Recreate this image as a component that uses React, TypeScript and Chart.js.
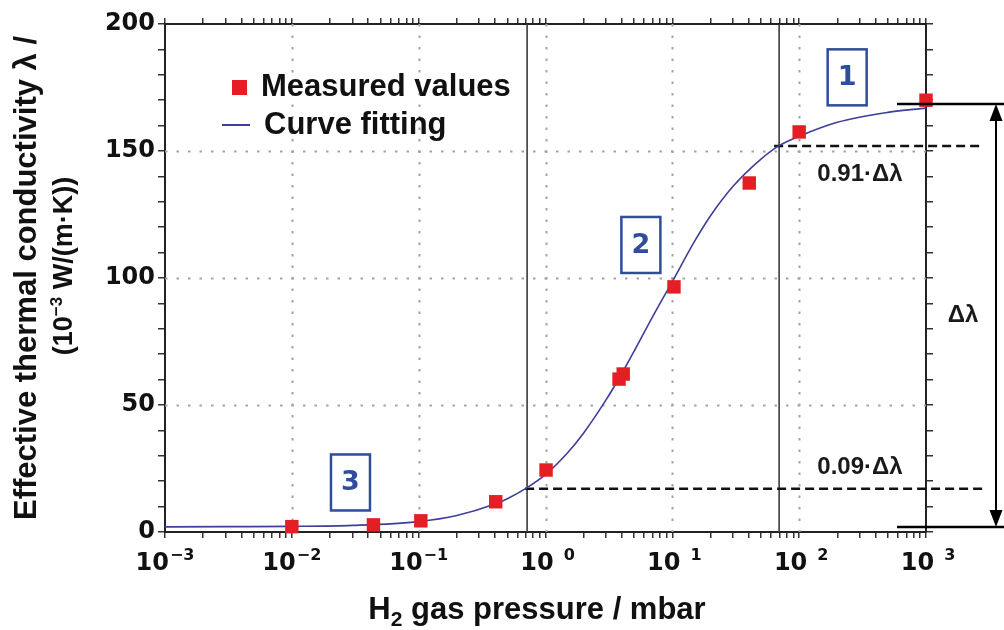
import React, { useEffect, useRef } from 'react';
import { Chart, registerables } from 'chart.js';

Chart.register(...registerables);

// ---- data ----
const measuredPressure = [0.01, 0.044, 0.104, 0.405, 1.01, 3.8, 4.1, 10.3, 40.4, 100, 1000];
const measuredLambda = [2.1, 2.8, 4.4, 11.9, 24.4, 60.2, 62.2, 96.5, 137.4, 157.5, 170];

const fitPressure = [0.001, 0.003, 0.01, 0.03, 0.1, 0.2, 0.4, 0.5, 0.7, 1, 1.5, 2, 3, 4, 5, 7, 10, 15, 20, 30, 50, 70, 100, 200, 500, 1000];
const fitLambda = [2.0, 2.1, 2.2, 2.6, 4.1, 6.5, 11.0, 13.1, 17.2, 22.6, 31.3, 39.0, 52.0, 62.4, 71.2, 84.8, 98.6, 114.5, 124.5, 136.0, 146.8, 152.2, 155.8, 161.3, 165.2, 166.9];

const xTickExponents = [-3, -2, -1, 0, 1, 2, 3];
const yTickValues = [0, 50, 100, 150, 200];

const boundaryPressure = [0.716, 69.5];
const levelLambda = [17, 152];
const levelLabels = ['0.09·Δλ', '0.91·Δλ'];
const bracketLambda = [2, 168.5];
const deltaLabel = 'Δλ';

const regionLabels = ['1', '2', '3'];
const regionPressure = [239, 5.65, 0.029];
const regionLambda = [179, 113, 19.5];

const legendLabels = ['Measured values', 'Curve fitting'];

const RED = '#e31e24';
const CURVE = '#3d3f99';
const BOXBLUE = '#2e4d9a';
const SANS = '"Liberation Sans", Arial, sans-serif';
const VERD = '"DejaVu Sans", Verdana, sans-serif';

function buildLogTicks() {
  const out: { value: number; major: boolean }[] = [];
  for (let e = -3; e < 3; e++) {
    for (let m = 1; m <= 9; m++) out.push({ value: m * Math.pow(10, e), major: m === 1 });
  }
  out.push({ value: 1000, major: true });
  return out;
}

const decorPlugin = {
  id: 'decor',
  beforeDatasetsDraw(chart: any) {
    const { ctx, chartArea: a, scales } = chart;
    const x = scales.x, y = scales.y;
    ctx.save();
    // dotted grid
    ctx.strokeStyle = '#a3a3a3';
    ctx.lineWidth = 2;
    ctx.setLineDash([2.5, 9]);
    xTickExponents.slice(1, -1).forEach((e) => {
      const px = Math.round(x.getPixelForValue(Math.pow(10, e))) + 0.5;
      ctx.beginPath(); ctx.moveTo(px, a.top); ctx.lineTo(px, a.bottom); ctx.stroke();
    });
    yTickValues.slice(1, -1).forEach((v) => {
      const py = Math.round(y.getPixelForValue(v)) + 0.5;
      ctx.beginPath(); ctx.moveTo(a.left, py); ctx.lineTo(a.right, py); ctx.stroke();
    });
    // boundary vertical lines
    ctx.setLineDash([]);
    ctx.strokeStyle = '#3a3a3a';
    ctx.lineWidth = 1.6;
    boundaryPressure.forEach((p) => {
      const px = x.getPixelForValue(p);
      ctx.beginPath(); ctx.moveTo(px, a.top); ctx.lineTo(px, a.bottom); ctx.stroke();
    });
    // dashed levels
    ctx.strokeStyle = '#111';
    ctx.lineWidth = 2.5;
    ctx.setLineDash([9, 5]);
    levelLambda.forEach((lv, i) => {
      const px0 = x.getPixelForValue(boundaryPressure[i]) - (i === 1 ? 5 : 2);
      const py = y.getPixelForValue(lv);
      ctx.beginPath(); ctx.moveTo(px0, py); ctx.lineTo(983, py); ctx.stroke();
    });
    ctx.restore();
  },
  afterDraw(chart: any) {
    const { ctx, scales } = chart;
    const x = scales.x, y = scales.y;
    ctx.save();
    ctx.setLineDash([]);

    // bracket lines and double arrow
    ctx.strokeStyle = '#000';
    ctx.fillStyle = '#000';
    ctx.lineWidth = 2.5;
    const yTop = y.getPixelForValue(bracketLambda[1]);
    const yBot = y.getPixelForValue(bracketLambda[0]);
    [yTop, yBot].forEach((py) => {
      ctx.beginPath(); ctx.moveTo(897, py); ctx.lineTo(1004, py); ctx.stroke();
    });
    const ax = 996;
    ctx.lineWidth = 2;
    ctx.beginPath(); ctx.moveTo(ax, yTop + 10); ctx.lineTo(ax, yBot - 10); ctx.stroke();
    ctx.beginPath(); ctx.moveTo(ax, yTop); ctx.lineTo(ax - 6.5, yTop + 17); ctx.lineTo(ax + 6.5, yTop + 17); ctx.closePath(); ctx.fill();
    ctx.beginPath(); ctx.moveTo(ax, yBot); ctx.lineTo(ax - 6.5, yBot - 17); ctx.lineTo(ax + 6.5, yBot - 17); ctx.closePath(); ctx.fill();

    // level labels
    ctx.fillStyle = '#1a1a1a';
    ctx.font = `bold 24px ${SANS}`;
    ctx.textAlign = 'center';
    ctx.textBaseline = 'middle';
    ctx.fillText(levelLabels[0], 860, y.getPixelForValue(levelLambda[0]) - 21);
    ctx.fillText(levelLabels[1], 860, y.getPixelForValue(levelLambda[1]) + 28);
    ctx.font = `bold 24px ${SANS}`;
    ctx.fillText(deltaLabel, 963, (yTop + yBot) / 2);

    // region boxes
    ctx.strokeStyle = BOXBLUE;
    ctx.fillStyle = BOXBLUE;
    ctx.lineWidth = 2.5;
    ctx.font = `bold 27px ${VERD}`;
    regionLabels.forEach((lab, i) => {
      const cx = x.getPixelForValue(regionPressure[i]);
      const cy = y.getPixelForValue(regionLambda[i]);
      ctx.strokeRect(cx - 19.5, cy - 28, 39, 56);
      ctx.fillText(lab, cx, cy + 1);
    });

    // legend
    ctx.fillStyle = RED;
    ctx.fillRect(232, 80, 15, 15);
    ctx.strokeStyle = CURVE;
    ctx.lineWidth = 2;
    ctx.beginPath(); ctx.moveTo(222, 125); ctx.lineTo(250, 125); ctx.stroke();
    ctx.fillStyle = '#111';
    ctx.font = `bold 31px ${SANS}`;
    ctx.textAlign = 'left';
    ctx.textBaseline = 'alphabetic';
    ctx.fillText(legendLabels[0], 261, 96);
    ctx.fillText(legendLabels[1], 264, 134);

    // x tick labels: 10^n
    ctx.fillStyle = '#111';
    xTickExponents.forEach((e) => {
      const px = x.getPixelForValue(Math.pow(10, e));
      ctx.font = `bold 24px ${VERD}`;
      const w10 = ctx.measureText('10').width;
      ctx.font = `bold 16px ${VERD}`;
      const wMinus = ctx.measureText('−').width;
      const digit = String(Math.abs(e));
      const wDig = ctx.measureText(digit).width;
      const gap = e < 0 ? wMinus : 9;
      const total = w10 + 1 + gap + wDig;
      const sx = px - total / 2 + (e < 0 ? 0 : 2);
      ctx.font = `bold 24px ${VERD}`;
      ctx.fillText('10', sx, 570);
      ctx.font = `bold 16px ${VERD}`;
      if (e < 0) ctx.fillText('−', sx + w10 + 1, 560);
      ctx.fillText(digit, sx + w10 + 1 + gap, 560);
    });

    // x title: H2 gas pressure / mbar
    const big = `bold 31px ${SANS}`;
    const small = `bold 21px ${SANS}`;
    ctx.font = big;
    const wH = ctx.measureText('H').width;
    const rest = ' gas pressure / mbar';
    const wRest = ctx.measureText(rest).width;
    ctx.font = small;
    const w2 = ctx.measureText('2').width;
    const tot = wH + w2 + wRest;
    let tx = 537 - tot / 2;
    ctx.font = big;
    ctx.fillText('H', tx, 619);
    tx += wH;
    ctx.font = small;
    ctx.fillText('2', tx, 626);
    tx += w2;
    ctx.font = big;
    ctx.fillText(rest, tx, 619);

    // y title (rotated)
    ctx.save();
    ctx.translate(36, 278);
    ctx.rotate(-Math.PI / 2);
    ctx.font = `bold 31px ${SANS}`;
    ctx.textAlign = 'center';
    ctx.fillText('Effective thermal conductivity λ /', 0, 0);
    ctx.restore();

    ctx.save();
    ctx.translate(72, 266);
    ctx.rotate(-Math.PI / 2);
    const f2 = `bold 27px ${SANS}`;
    const fs = `bold 17px ${SANS}`;
    ctx.font = f2;
    const pA = '(10';
    const pB = ' W/(m·K))';
    const wA = ctx.measureText(pA).width;
    const wB = ctx.measureText(pB).width;
    ctx.font = fs;
    const wS = ctx.measureText('−3').width;
    let lx = -(wA + wS + wB) / 2;
    ctx.textAlign = 'left';
    ctx.font = f2;
    ctx.fillText(pA, lx, 0);
    lx += wA;
    ctx.font = fs;
    ctx.fillText('−3', lx, -10);
    lx += wS;
    ctx.font = f2;
    ctx.fillText(pB, lx, 0);
    ctx.restore();

    ctx.restore();
  },
};

export default function App() {
  const ref = useRef<HTMLCanvasElement | null>(null);

  useEffect(() => {
    document.body.style.margin = '0';
    const canvas = ref.current;
    if (!canvas) return;

    const tickGrid = (len: number) => ({
      display: true,
      drawOnChartArea: false,
      drawTicks: true,
      tickLength: len,
      tickColor: '#333',
      tickWidth: 1.5,
      lineWidth: 1.5,
      color: '#333',
    });
    const border = { display: true, color: '#222', width: 2 };

    const chart = new Chart(canvas, {
      type: 'scatter',
      data: {
        datasets: [
          {
            label: legendLabels[0],
            data: measuredPressure.map((p, i) => ({ x: p, y: measuredLambda[i] })),
            pointStyle: 'rect',
            pointRadius: 9.5,
            pointHoverRadius: 9.5,
            pointBackgroundColor: RED,
            pointBorderWidth: 0,
            backgroundColor: RED,
            borderColor: RED,
            showLine: false,
            clip: false,
          } as any,
          {
            label: legendLabels[1],
            data: fitPressure.map((p, i) => ({ x: p, y: fitLambda[i] })),
            showLine: true,
            borderColor: CURVE,
            borderWidth: 1.6,
            pointRadius: 0,
            cubicInterpolationMode: 'monotone',
            fill: false,
          } as any,
        ],
      },
      options: {
        animation: false,
        responsive: false,
        devicePixelRatio: 1,
        layout: { padding: 0 },
        plugins: { legend: { display: false }, tooltip: { enabled: false } },
        events: [],
        scales: {
          x: {
            type: 'logarithmic',
            position: 'bottom',
            min: 0.001,
            max: 1000,
            grid: tickGrid(6),
            border,
            ticks: { display: false },
            afterBuildTicks: (s: any) => { s.ticks = buildLogTicks(); },
            afterFit: (s: any) => { s.height = 98; },
          },
          x2: {
            type: 'logarithmic',
            position: 'top',
            display: true,
            min: 0.001,
            max: 1000,
            grid: tickGrid(6),
            border,
            ticks: { display: false },
            afterBuildTicks: (s: any) => { s.ticks = buildLogTicks(); },
            afterFit: (s: any) => { s.height = 24; },
          },
          y: {
            type: 'linear',
            position: 'left',
            min: 0,
            max: 200,
            grid: tickGrid(7),
            border,
            ticks: {
              stepSize: 10,
              autoSkip: false,
              padding: 3,
              color: '#111',
              font: { family: VERD, size: 24, weight: 'bold' },
              callback: (v: any) => (yTickValues.includes(Number(v)) ? String(v) : ''),
            },
            afterFit: (s: any) => { s.width = 165; },
          },
          y2: {
            type: 'linear',
            position: 'right',
            display: true,
            min: 0,
            max: 200,
            grid: tickGrid(7),
            border,
            ticks: { display: false, stepSize: 10, autoSkip: false },
            afterFit: (s: any) => { s.width = 78; },
          },
        },
      } as any,
      plugins: [decorPlugin],
    });

    return () => chart.destroy();
  }, []);

  return (
    <div style={{ position: 'fixed', left: 0, top: 0, width: 1004, height: 630, background: '#fff' }}>
      <canvas ref={ref} width={1004} height={630} style={{ width: 1004, height: 630, display: 'block' }} />
    </div>
  );
}
